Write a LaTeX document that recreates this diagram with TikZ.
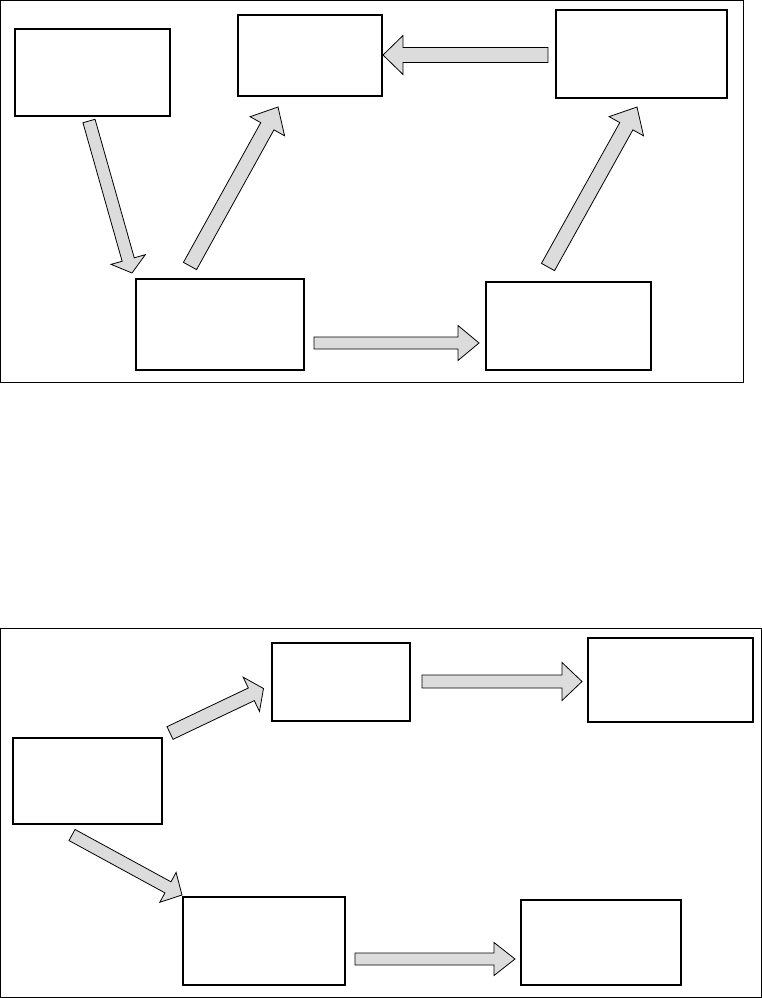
\documentclass[tikz,border=0pt]{standalone}
\usetikzlibrary{calc}
\definecolor{arrowgray}{HTML}{DCDCDC}
\tikzset{
  box/.style={draw=black, line width=1.5pt, fill=white, anchor=north west, inner sep=0pt, outer sep=0pt},
  frame/.style={draw=black, line width=1pt},
  barrow/.style={draw=black, line width=0.8pt, fill=arrowgray, line join=miter},
}
% #1 tail, #2 tip, #3 shaft half width, #4 head half width, #5 head length
\newcommand{\blockarrow}[5]{%
  \coordinate (bah) at ($(#2)!#5!(#1)$);
  \draw[barrow] ($(#1)!#3!90:(#2)$) -- ($(bah)!#3!90:(#2)$) -- ($(bah)!#4!90:(#2)$) -- (#2)
    -- ($(bah)!#4!-90:(#2)$) -- ($(bah)!#3!-90:(#2)$) -- ($(#1)!#3!-90:(#2)$) -- cycle;}
\begin{document}
\begin{tikzpicture}[x=1pt,y=-1pt]
\useasboundingbox (0,0) rectangle (762,998);
% frames
\draw[frame] (0.5,0.5) rectangle (743,382);
\draw[frame] (0.5,628) rectangle (761.5,997.5);
% top diagram boxes
\node[box, minimum width=155pt, minimum height=87pt] (A) at (15,29) {};
\node[box, minimum width=144pt, minimum height=81pt] (B) at (238,15) {};
\node[box, minimum width=171pt, minimum height=88pt] (C) at (556,10) {};
\node[box, minimum width=168pt, minimum height=91pt] (D) at (136,279) {};
\node[box, minimum width=165pt, minimum height=88pt] (E) at (486,282) {};
% bottom diagram boxes
\node[box, minimum width=149pt, minimum height=86pt] (F) at (13,738) {};
\node[box, minimum width=138pt, minimum height=78pt] (G) at (272,643) {};
\node[box, minimum width=165pt, minimum height=84pt] (H) at (588,638) {};
\node[box, minimum width=162pt, minimum height=88pt] (I) at (183,897) {};
\node[box, minimum width=160pt, minimum height=85pt] (J) at (521,900) {};
% arrow end points
\coordinate (adT) at (89,121);   \coordinate (adP) at (132,273);
\coordinate (dbT) at (190,266);  \coordinate (dbP) at (278,107);
\coordinate (cbT) at (548,55);   \coordinate (cbP) at (383,55);
\coordinate (ecT) at (548,267);  \coordinate (ecP) at (637,107);
\coordinate (deT) at (314,343);  \coordinate (deP) at (479,343);
\coordinate (fgT) at (170,733);  \coordinate (fgP) at (263.5,688.5);
\coordinate (ghT) at (422,681.5);\coordinate (ghP) at (582,681.5);
\coordinate (fiT) at (72,835);   \coordinate (fiP) at (182,895);
\coordinate (ijT) at (355,959);  \coordinate (ijP) at (515,959);
% top arrows
\blockarrow{adT}{adP}{6.3pt}{17.8pt}{14pt}
\blockarrow{dbT}{dbP}{7.5pt}{19.7pt}{22pt}
\blockarrow{cbT}{cbP}{7.5pt}{19.5pt}{20pt}
\blockarrow{ecT}{ecP}{7.5pt}{19.7pt}{22pt}
\blockarrow{deT}{deP}{6pt}{17.5pt}{21pt}
% bottom arrows
\blockarrow{fgT}{fgP}{7pt}{19pt}{13.5pt}
\blockarrow{ghT}{ghP}{6.5pt}{19pt}{20pt}
\blockarrow{fiT}{fiP}{6.3pt}{17pt}{16pt}
\blockarrow{ijT}{ijP}{6pt}{16.5pt}{21pt}
\end{tikzpicture}
\end{document}
